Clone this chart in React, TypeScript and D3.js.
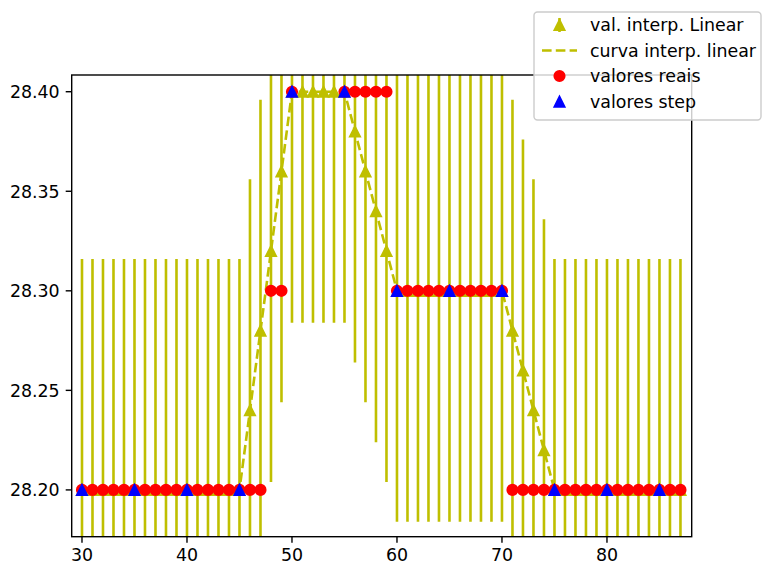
import React from "react";
import * as d3 from "d3";

// ---- data ----
const interpX = [30, 31, 32, 33, 34, 35, 36, 37, 38, 39, 40, 41, 42, 43, 44, 45, 46, 47, 48, 49, 50, 51, 52, 53, 54, 55, 56, 57, 58, 59, 60, 61, 62, 63, 64, 65, 66, 67, 68, 69, 70, 71, 72, 73, 74, 75, 76, 77, 78, 79, 80, 81, 82, 83, 84, 85, 86, 87];
const interpY = [
  28.2, 28.2, 28.2, 28.2, 28.2, 28.2, 28.2, 28.2, 28.2, 28.2, 28.2, 28.2, 28.2, 28.2, 28.2, 28.2,
  28.24, 28.28, 28.32, 28.36,
  28.4, 28.4, 28.4, 28.4, 28.4, 28.4,
  28.38, 28.36, 28.34, 28.32,
  28.3, 28.3, 28.3, 28.3, 28.3, 28.3, 28.3, 28.3, 28.3, 28.3, 28.3,
  28.28, 28.26, 28.24, 28.22,
  28.2, 28.2, 28.2, 28.2, 28.2, 28.2, 28.2, 28.2, 28.2, 28.2, 28.2, 28.2, 28.2,
];
const interpErr = 0.116;

const realX = [30, 31, 32, 33, 34, 35, 36, 37, 38, 39, 40, 41, 42, 43, 44, 45, 46, 47, 48, 49, 50, 55, 56, 57, 58, 59, 60, 61, 62, 63, 64, 65, 66, 67, 68, 69, 70, 71, 72, 73, 74, 75, 76, 77, 78, 79, 80, 81, 82, 83, 84, 85, 86, 87];
const realY = [
  28.2, 28.2, 28.2, 28.2, 28.2, 28.2, 28.2, 28.2, 28.2, 28.2, 28.2, 28.2, 28.2, 28.2, 28.2, 28.2, 28.2, 28.2,
  28.3, 28.3,
  28.4, 28.4, 28.4, 28.4, 28.4, 28.4,
  28.3, 28.3, 28.3, 28.3, 28.3, 28.3, 28.3, 28.3, 28.3, 28.3, 28.3,
  28.2, 28.2, 28.2, 28.2, 28.2, 28.2, 28.2, 28.2, 28.2, 28.2, 28.2, 28.2, 28.2, 28.2, 28.2, 28.2, 28.2,
];

const stepX = [30, 35, 40, 45, 50, 55, 60, 65, 70, 75, 80, 85];
const stepY = [28.2, 28.2, 28.2, 28.2, 28.4, 28.4, 28.3, 28.3, 28.3, 28.2, 28.2, 28.2];

const xTicks = [30, 40, 50, 60, 70, 80];
const yTicks = [28.2, 28.25, 28.3, 28.35, 28.4];

const legendLabels = ["val. interp. Linear", "curva interp. linear", "valores reais", "valores step"];

// ---- layout ----
const W = 762;
const H = 565;
const L = 71.7, R = 691.7, T = 75, B = 536.7;
const FONT = "'DejaVu Sans', sans-serif";
const FS = 17.4;
const YEL = "#bfbf00";

const x = d3.scaleLinear().domain([29.02, 88.07]).range([L, R]);
const y = d3.scaleLinear().domain([28.1765, 28.4084]).range([B, T]);

const MS = 5.2; // half marker size
const MEW = 1.74;

function tri(cx: number, cy: number) {
  return `M${cx},${cy - MS}L${cx - MS},${cy + MS}L${cx + MS},${cy + MS}Z`;
}

export default function App() {
  const line = d3
    .line<number>()
    .x((_, i) => x(interpX[i]))
    .y((d) => y(d));

  const legX = 534, legY = 12, legW = 227, legH = 108;
  const rowY = [25, 50.5, 76, 101.7];
  const hx = 559.5;

  return (
    <svg
      width={W}
      height={H}
      style={{ position: "absolute", left: 0, top: 0, background: "#fff" }}
      fontFamily={FONT}
    >
      <defs>
        <clipPath id="axclip">
          <rect x={L} y={T} width={R - L} height={B - T} />
        </clipPath>
      </defs>
      <g clipPath="url(#axclip)">
        {/* error bars */}
        {interpX.map((xv, i) => (
          <line
            key={"e" + i}
            x1={x(xv)}
            x2={x(xv)}
            y1={y(interpY[i] - interpErr)}
            y2={y(interpY[i] + interpErr)}
            stroke={YEL}
            strokeWidth={2.6}
          />
        ))}
        {/* yellow interpolated triangles */}
        {interpX.map((xv, i) => (
          <path
            key={"yt" + i}
            d={tri(x(xv), y(interpY[i]))}
            fill={YEL}
            stroke={YEL}
            strokeWidth={MEW}
          />
        ))}
        {/* dashed curve */}
        <path
          d={line(interpY) || ""}
          fill="none"
          stroke={YEL}
          strokeWidth={2.6}
          strokeDasharray="9.6,4.2"
        />
        {/* real values */}
        {realX.map((xv, i) => (
          <circle
            key={"r" + i}
            cx={x(xv)}
            cy={y(realY[i])}
            r={MS}
            fill="#ff0000"
            stroke="#ff0000"
            strokeWidth={MEW}
          />
        ))}
        {/* step values */}
        {stepX.map((xv, i) => (
          <path
            key={"b" + i}
            d={tri(x(xv), y(stepY[i]))}
            fill="#0000ff"
            stroke="#0000ff"
            strokeWidth={MEW}
          />
        ))}
      </g>

      {/* spines */}
      <rect x={L} y={T} width={R - L} height={B - T} fill="none" stroke="#000" strokeWidth={1.4} />

      {/* x ticks */}
      {xTicks.map((t) => (
        <g key={"xt" + t}>
          <line x1={x(t)} x2={x(t)} y1={B} y2={B + 6} stroke="#000" strokeWidth={1.4} />
          <text x={x(t)} y={B + 12 + 12.7} textAnchor="middle" fontSize={FS} fill="#000">
            {t}
          </text>
        </g>
      ))}
      {/* y ticks */}
      {yTicks.map((t) => (
        <g key={"yt" + t}>
          <line x1={L - 6} x2={L} y1={y(t)} y2={y(t)} stroke="#000" strokeWidth={1.4} />
          <text x={L - 12} y={y(t) + 6.3} textAnchor="end" fontSize={FS} fill="#000">
            {t.toFixed(2)}
          </text>
        </g>
      ))}

      {/* legend */}
      <rect
        x={legX}
        y={legY}
        width={legW}
        height={legH}
        rx={3.5}
        ry={3.5}
        fill="#fff"
        fillOpacity={0.8}
        stroke="#cccccc"
        strokeWidth={1.4}
      />
      <line x1={hx} x2={hx} y1={rowY[0] - 7} y2={rowY[0] + 7} stroke={YEL} strokeWidth={2.6} />
      <path d={tri(hx, rowY[0])} fill={YEL} stroke={YEL} strokeWidth={MEW} />
      <line
        x1={542}
        x2={577}
        y1={rowY[1]}
        y2={rowY[1]}
        stroke={YEL}
        strokeWidth={2.6}
        strokeDasharray="9.6,4.2"
      />
      <circle cx={hx} cy={rowY[2]} r={MS} fill="#ff0000" stroke="#ff0000" strokeWidth={MEW} />
      <path d={tri(hx, rowY[3])} fill="#0000ff" stroke="#0000ff" strokeWidth={MEW} />
      {legendLabels.map((lab, i) => (
        <text key={"lg" + i} x={590} y={rowY[i] + 6.3} fontSize={FS} fill="#000">
          {lab}
        </text>
      ))}
    </svg>
  );
}
